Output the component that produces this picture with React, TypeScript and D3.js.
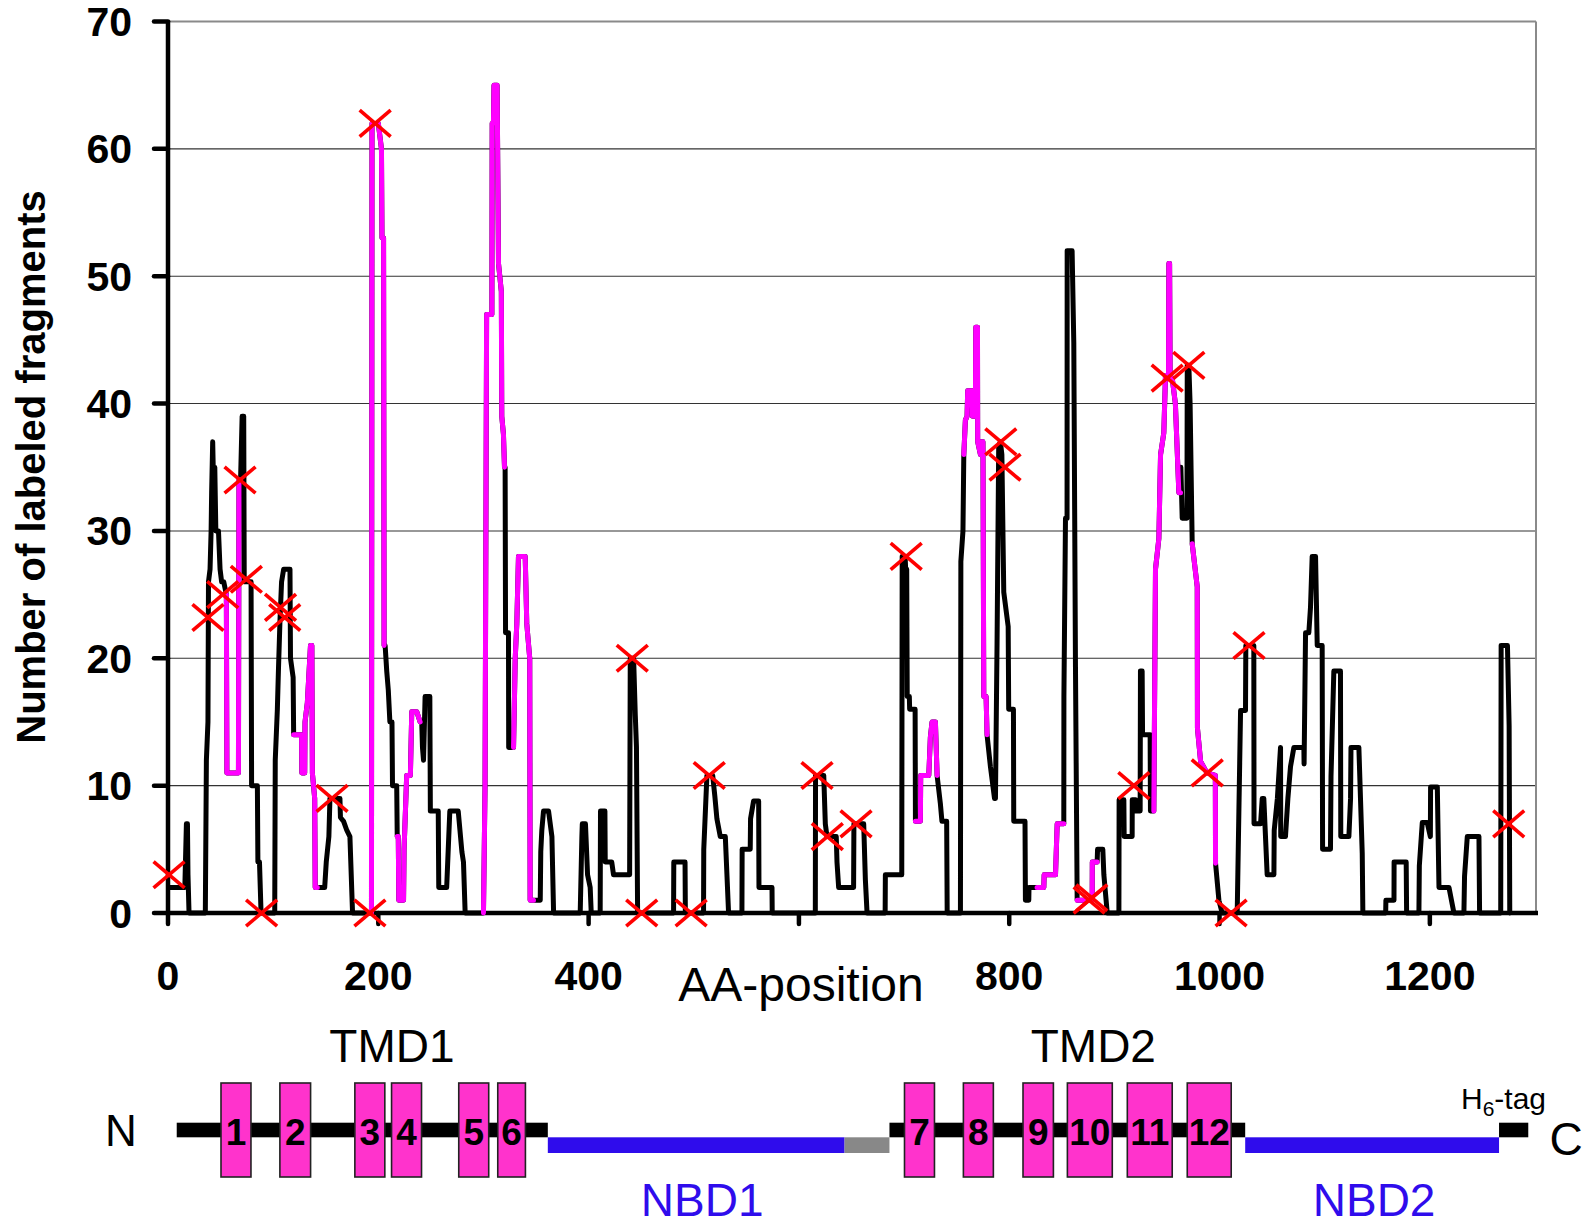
import React from "react";
import * as d3 from "d3";

// ---- profile data (AA position, number of labeled fragments) ----
const positions: number[] = [
  1, 16, 17.5, 18.5, 19, 20, 35.5, 36.5, 38, 38.5, 40, 41, 41.5, 42.5, 43.5, 44.5, 45.5, 48, 49.5, 51, 53,
  55.5, 56, 67, 67.5, 69, 70.5, 72, 72.5, 79, 79.5, 85, 85.5, 87, 88.5,
  101.5, 102, 104, 105, 106.5, 108, 110, 116, 116.5, 119, 119.5, 127, 127.3, 130, 130.3, 132.5, 135.5, 136.8, 137.3, 139.5, 140, 142,
  149, 150.5, 153, 154, 163.5, 164, 167, 170, 173, 175.5,
  193.5, 194, 200, 203, 203.5, 205, 205.5, 206.5, 208, 209.5, 211, 213, 213.5, 217.5, 218, 219, 219.5, 224, 224.5, 227, 230.5, 231.8, 236.6, 239.8,
  241.3, 242, 243, 244.5, 249, 249.5, 257, 257.5, 265, 268, 276, 279.5, 281, 282.6,
  300, 301.5, 303, 308, 308.3, 309.5, 310, 313, 314.3, 317, 317.4, 319, 320, 320.6, 321, 323.8, 324, 328.6, 330.2, 331.7, 333.3, 339.7, 341.2, 344, 344.4, 347.6,
  354, 354.5, 355.5, 357.1, 361.9, 365.1, 366.7,
  392, 393.6, 394, 397, 399, 401.5, 402.5, 411, 411.3, 415.5, 415.8, 422, 423.7, 439, 439.6, 442.8, 444.4, 445.5, 446.6,
  480.8, 481, 491.7, 492, 509.3, 509.5, 512.5, 518, 520, 522, 525.2, 530, 533.1,
  545.8, 546, 553.7, 554, 556.9, 561.7, 562, 574.4, 574.6,
  615.6, 615.8, 623.6, 625.1, 626.7, 635.5, 636.2, 637.8, 652, 652.3, 661.6, 663.2, 664.8,
  682, 682.2, 697.8, 698.2, 701, 701.5, 702.5, 703, 705, 705.3, 710.5, 710.8, 715.5, 715.8, 723.5, 725, 726.6, 729.8, 731.4, 734.5, 736, 740.5, 741,
  753.6, 754, 756, 756.8, 758.3, 759.9, 760.5, 764.7, 765, 767.8, 768.2, 769.8, 770, 772.6, 773, 775, 775.8, 778, 778.9,
  782.1, 786, 786.9, 788.4, 790, 791.6, 793, 794.8, 799, 799.5, 804, 804.3, 815, 815.4, 818.6, 818.8, 826.5,
  832.9, 833.2, 844, 845.6, 851.9, 852, 853.5, 855, 855.1, 859.8, 861.4, 863, 864.6, 877.3, 878.9, 879, 883.6,
  884, 889, 890, 893.2,
  904.3, 904.5, 909, 909.3, 916.9, 917, 920.1, 920.3, 924.5, 924.8, 926.4, 926.8, 934, 934.3, 937.5,
  939.1, 942.3, 943.9, 947, 948.6, 951.5, 951.8, 952.5, 953, 955, 958, 961.3, 962.9,
  963.2, 964.5, 969, 969.3, 970.8, 972, 974, 978.8, 979, 982, 988, 996, 996.2, 999.4, 1002.5,
  1016.8, 1018.4, 1020, 1024.7, 1025, 1032.6, 1032.8, 1039, 1040.6, 1042.1, 1045.3, 1051.7, 1052, 1055, 1058, 1058.2, 1062.7, 1065, 1067.5, 1070.7,
  1080.2, 1080.4, 1081.8, 1084.9, 1086.5, 1088.1, 1091.3, 1092.9, 1097.6, 1098, 1105.5, 1106, 1108.7, 1115, 1115.3, 1123, 1124.6, 1125, 1132.5, 1135.7, 1136.3,
  1158, 1158.2, 1165.9, 1166, 1177.5, 1177.9,
  1189.6, 1190, 1192.8, 1197.5, 1200.5, 1200.7, 1207.1, 1208.7, 1218.2, 1222.9,
  1232.4, 1233, 1235.6, 1246.7, 1247.3,
  1267.4, 1267.8, 1273.8, 1275.4, 1276,
];
const counts: number[] = [
  2, 2, 7, 7, 3, 0, 0, 12, 15, 26, 27, 30, 33, 37, 33, 35, 30, 30, 27, 26, 26,
  25, 11, 11, 34, 34, 39, 39, 26, 26, 10, 10, 4, 4, 0,
  0, 12, 16, 19, 23, 26, 27, 27, 20, 18.5, 14, 14, 11, 11, 15, 16.5, 21, 21, 11, 9, 2, 2,
  2, 4, 6, 9, 9, 7.5, 7.2, 6.5, 6, 0,
  0, 62, 62, 60, 53, 53, 21, 21, 19, 17.5, 15, 15, 10, 10, 6, 6, 1, 1, 5, 10.8, 10.8, 15.8, 15.8, 15,
  15, 13, 12, 17, 17, 8, 8, 2, 2, 8, 8, 4.8, 4, 0,
  0, 10, 47, 47, 62, 62, 65, 65, 51, 48.8, 39, 37.6, 35, 35, 22, 22, 13, 13, 20, 22.7, 28, 28, 22.7, 20, 1, 1,
  1, 4.8, 6.5, 8, 8, 6, 0,
  0, 6, 7, 7, 3, 2, 0, 0, 8, 8, 4, 4, 3, 3, 20, 20, 15.5, 13, 0,
  0, 4, 4, 0, 0, 5, 10.8, 10.8, 9.2, 7.4, 6, 6, 0,
  0, 5, 5, 7.4, 8.8, 8.8, 2, 2, 0,
  0, 10.8, 10.8, 7, 6, 6, 4, 2, 2, 7, 7, 2.6, 0,
  0, 3, 3, 28, 28, 27, 27, 17, 17, 16, 16, 7.2, 7.2, 10.8, 10.8, 13.8, 15, 15, 10.8, 8.6, 7.2, 7.2, 0,
  0, 27.6, 30, 36, 38.7, 39, 41, 41, 39, 39, 46, 46, 37, 36, 37, 37, 17, 17, 14,
  11.5, 9, 9, 21, 36.7, 37, 36, 25.2, 22.5, 16, 16, 7.2, 7.2, 1, 1, 2, 2,
  2, 3, 3, 7, 7, 17, 31, 31, 52, 52, 44.8, 19.3, 1, 1, 1, 4, 4,
  5, 5, 3, 0,
  0, 8.9, 8.9, 6, 6, 8.9, 8.9, 8, 8, 19, 19, 14, 14, 8, 8,
  27, 29.4, 36, 37.7, 42.2, 42.2, 51, 51, 42, 42, 40, 33, 33,
  35, 31, 31, 43, 43, 40, 29, 25.6, 14.5, 11.9, 11, 10.8, 3.9, 1, 0,
  0, 8, 15.9, 15.9, 21, 21, 7, 7, 9, 9, 3, 3, 6.5, 9, 13, 6, 6, 9, 11.5, 13,
  13, 11.7, 22, 22, 24, 28, 28, 21, 21, 5, 5, 10.7, 19, 19, 6, 6, 9, 13, 13, 4.7, 0,
  0, 1, 1, 4, 4, 0,
  0, 3.7, 7.1, 7.1, 6, 9.9, 9.9, 2, 2, 0,
  0, 2.9, 6, 6, 0,
  0, 21, 21, 14.7, 0,
];

// magenta highlighted stretches (AA ranges)
const highlightStart: number[] = [55.5, 119.5, 193.5, 218, 300, 328.6, 710.8, 756.8, 826.5, 864.6, 937.5, 974];
const highlightEnd: number[] = [69, 142, 205.5, 239.8, 320, 347.6, 731.4, 778.9, 851.9, 883.6, 962.9, 996.2];

// red crosses
const markerPos: number[] = [1, 38, 52, 68.5, 74.5, 89, 107, 111, 156, 192, 197, 441.5, 450.5, 497.5, 514.7, 617.2, 627, 654.3, 702, 792, 796, 876, 878.5, 918.5, 950.2, 970.8, 988.3, 1011, 1028, 1275];
const markerVal: number[] = [3, 23.2, 25, 34, 26.2, 0, 24, 23.2, 9, 0, 62, 20, 0, 0, 10.8, 10.8, 6, 7, 28, 37, 35, 1, 1.2, 10, 42, 43, 11, 0, 21, 7];

// axes
const yTicks: number[] = [0, 10, 20, 30, 40, 50, 60, 70];
const xTicks: number[] = [0, 200, 400, 600, 800, 1000, 1200];
const xTickLabels: string[] = ["0", "200", "400", "", "800", "1000", "1200"];

// ---- domain schematic (AA ranges) ----
const tmLabels: string[] = ["1", "2", "3", "4", "5", "6", "7", "8", "9", "10", "11", "12"];
const tmStart: number[] = [50.4, 106.4, 177.7, 212.6, 276.5, 313.6, 700.4, 756.4, 813.1, 855.3, 912.3, 969.3];
const tmEnd: number[] = [78.9, 135.6, 206.2, 241.1, 305, 339.9, 728.9, 784.9, 842, 898, 955, 1011.1];
const backboneStart: number[] = [8.3, 686.1, 1265.8];
const backboneEnd: number[] = [361.2, 1024.4, 1293.6];
const nbdNames: string[] = ["NBD1", "NBD2"];
const nbdStart: number[] = [361.2, 1024.4];
const nbdEnd: number[] = [643.4, 1265.8];
const nbdLabelPos: number[] = [508, 1147];
const linkerStart: number[] = [643.4];
const linkerEnd: number[] = [686.1];
const tmdNames: string[] = ["TMD1", "TMD2"];
const tmdLabelPos: number[] = [213, 880];

const FONT = "'Liberation Sans', Arial, Helvetica, sans-serif";
const BLUE = "#2F0CEC";

export default function App() {
  const x = d3.scaleLinear().domain([0, 1300]).range([168, 1535]);
  const y = d3.scaleLinear().domain([0, 70]).range([913, 21.5]);

  const idx = positions.map((_, i) => i);
  const line = d3
    .line<number>()
    .x((i) => x(positions[i]))
    .y((i) => y(counts[i]));

  const mainPath = line(idx) || "";
  const hlPaths = highlightStart.map((s, k) => {
    const e = highlightEnd[k];
    const sel = idx.filter((i) => positions[i] >= s - 1e-6 && positions[i] <= e + 1e-6);
    return line(sel) || "";
  });

  const xL = x.range()[0];
  const xR = x.range()[1];
  const yB = y(0);
  const yT = y(70);

  const boxTop = 1083;
  const boxH = 94;
  const bbTop = 1122.7;
  const bbH = 14.6;
  const nbdTop = 1137.3;
  const nbdH = 15.7;

  return (
    <svg
      width={1589}
      height={1225}
      style={{ position: "absolute", left: 0, top: 0, background: "#fff" }}
      fontFamily={FONT}
    >
      <rect x={0} y={0} width={1589} height={1225} fill="#fff" />
      {/* gridlines */}
      {yTicks
        .filter((t) => t > 0 && t < 70)
        .map((t) => (
          <line key={"g" + t} x1={xL} x2={xR} y1={y(t)} y2={y(t)} stroke="#333" strokeWidth={1.1} />
        ))}
      {/* top and right frame */}
      <line x1={xL} x2={xR + 1} y1={yT} y2={yT} stroke="#8a8a8a" strokeWidth={2} />
      <line x1={xR + 1} x2={xR + 1} y1={yT} y2={yB} stroke="#8a8a8a" strokeWidth={2} />

      {/* axes */}
      <line x1={xL} x2={xL} y1={yT - 1} y2={yB + 2} stroke="#000" strokeWidth={4.5} />
      <line x1={xL - 2} x2={xR + 3} y1={yB} y2={yB} stroke="#000" strokeWidth={4.5} />
      {yTicks.map((t) => (
        <g key={"yt" + t}>
          <line x1={xL - 14} x2={xL} y1={y(t)} y2={y(t)} stroke="#000" strokeWidth={4.5} strokeLinecap="round" />
          <text x={132} y={y(t) + 14.5} textAnchor="end" fontSize={41} fontWeight="bold" fill="#000">
            {t}
          </text>
        </g>
      ))}
      {xTicks.map((t, k) => (
        <g key={"xt" + t}>
          <line x1={x(t)} x2={x(t)} y1={yB} y2={yB + 11} stroke="#000" strokeWidth={4.5} strokeLinecap="round" />
          {xTickLabels[k] && (
            <text x={x(t)} y={990} textAnchor="middle" fontSize={41} fontWeight="bold" fill="#000">
              {xTickLabels[k]}
            </text>
          )}
        </g>
      ))}
      <text x={801} y={1001} textAnchor="middle" fontSize={48} fill="#000">
        AA-position
      </text>
      <text
        transform="translate(45,467) rotate(-90)"
        textAnchor="middle"
        fontSize={40}
        fontWeight="bold"
        fill="#000"
      >
        Number of labeled fragments
      </text>

      {/* profile */}
      <path d={mainPath} fill="none" stroke="#000" strokeWidth={5} strokeLinejoin="round" strokeLinecap="round" />
      {hlPaths.map((d, k) => (
        <path key={"h" + k} d={d} fill="none" stroke="#FF00FF" strokeWidth={5} strokeLinejoin="round" strokeLinecap="round" />
      ))}
      {markerPos.map((p, k) => {
        const cx = x(p);
        const cy = y(markerVal[k]);
        const s = 15.5;
        return (
          <g key={"m" + k} stroke="#FF0000" strokeWidth={3.6}>
            <line x1={cx - s} y1={cy - s * 0.85} x2={cx + s} y2={cy + s * 0.85} />
            <line x1={cx - s} y1={cy + s * 0.85} x2={cx + s} y2={cy - s * 0.85} />
          </g>
        );
      })}

      {/* domain schematic */}
      {tmdNames.map((n, k) => (
        <text key={n} x={x(tmdLabelPos[k])} y={1062} textAnchor="middle" fontSize={46} fill="#000">
          {n}
        </text>
      ))}
      <text x={121} y={1146} textAnchor="middle" fontSize={44} fill="#000">
        N
      </text>
      <text x={1566} y={1155} textAnchor="middle" fontSize={46} fill="#000">
        C
      </text>
      <text x={1461} y={1109} fontSize={30} fill="#000">
        H
        <tspan fontSize={21} dy={7}>
          6
        </tspan>
        <tspan dy={-7}>-tag</tspan>
      </text>
      {nbdStart.map((s, k) => (
        <rect key={"nb" + k} x={x(s)} y={nbdTop} width={x(nbdEnd[k]) - x(s)} height={nbdH} fill={BLUE} />
      ))}
      {linkerStart.map((s, k) => (
        <rect key={"lk" + k} x={x(s)} y={nbdTop} width={x(linkerEnd[k]) - x(s)} height={nbdH} fill="#888" />
      ))}
      {backboneStart.map((s, k) => (
        <rect key={"bb" + k} x={x(s)} y={bbTop} width={x(backboneEnd[k]) - x(s)} height={bbH} fill="#000" />
      ))}
      {nbdNames.map((n, k) => (
        <text key={n} x={x(nbdLabelPos[k])} y={1216} textAnchor="middle" fontSize={46} fill={BLUE}>
          {n}
        </text>
      ))}
      {tmStart.map((s, k) => {
        const x0 = x(s);
        const w = x(tmEnd[k]) - x0;
        return (
          <g key={"tm" + k}>
            <rect x={x0} y={boxTop} width={w} height={boxH} fill="#FF33CC" stroke="#222" strokeWidth={1.6} />
            <text x={x0 + w / 2} y={1145} textAnchor="middle" fontSize={37} fontWeight="bold" fill="#000">
              {tmLabels[k]}
            </text>
          </g>
        );
      })}
    </svg>
  );
}
